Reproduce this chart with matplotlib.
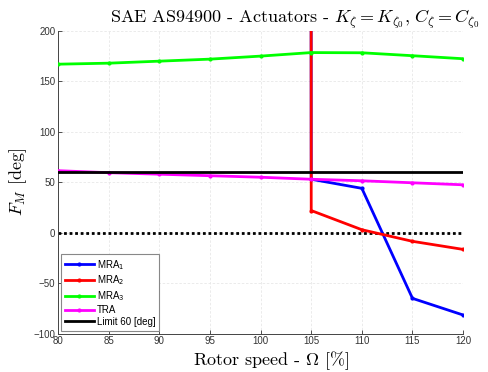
import matplotlib
matplotlib.use("Agg")
import matplotlib.pyplot as plt
from matplotlib.font_manager import FontProperties

speed = [80, 85, 90, 95, 100, 105, 110, 115, 120]
# MRA1 / MRA2 values below 105 % are far off-scale (above the plotted range)
mra1 = [95000, 97000, 99000, 100000, 100000, 53, 44, -65, -81.5]
mra2 = [95000, 97000, 99000, 100000, 100000, 22, 3, -8.5, -16.5]
mra3 = [167, 168, 170, 172, 175, 178.5, 178.3, 175.4, 172.4]
tra = [61.5, 59.5, 58, 56.5, 55, 53, 51.5, 49.5, 47.5]
limit = 60
labels = ["MRA$_1$", "MRA$_2$", "MRA$_3$", "TRA", "Limit 60 [deg]"]
xticks = [80, 85, 90, 95, 100, 105, 110, 115, 120]
yticks = [-100, -50, 0, 50, 100, 150, 200]

plt.rcParams['mathtext.fontset'] = 'cm'

fig = plt.figure(figsize=(4.88, 3.72), dpi=100)
ax = fig.add_axes([0.119, 0.103, 0.830, 0.814])

ax.plot([speed[0], speed[-1]], [0, 0], color='black', lw=2, ls=(0, (1, 1)), zorder=1)

lw = 2.0
ms = 4
ax.plot(speed, mra1, color='#0000ff', lw=lw, marker='.', ms=ms, label=labels[0], zorder=2)
ax.plot(speed, mra2, color='#ff0000', lw=lw, marker='.', ms=ms, label=labels[1], zorder=3)
ax.plot(speed, mra3, color='#00ff00', lw=lw, marker='.', ms=ms, label=labels[2], zorder=4)
ax.plot(speed, tra, color='#ff00ff', lw=lw, marker='.', ms=ms, label=labels[3], zorder=5)
ax.plot([speed[0], speed[-1]], [limit, limit], color='black', lw=lw, label=labels[4], zorder=6)

ax.set_xlim(80, 120)
ax.set_ylim(-100, 200)
ax.set_xticks(xticks)
ax.set_yticks(yticks)
tickfont = 'Liberation Sans'
for lab in ax.get_xticklabels() + ax.get_yticklabels():
    lab.set_family(tickfont)
    lab.set_fontsize(7)
ax.tick_params(direction='in', length=3, width=0.6, colors='#333333', pad=2)
ax.tick_params(axis='x', pad=2)
ax.grid(True, color='#e8e8e8', lw=0.6, ls=(0, (3, 2)))
ax.set_axisbelow(True)
for s in ['top', 'right']:
    ax.spines[s].set_visible(False)
for s in ['left', 'bottom']:
    ax.spines[s].set_color('#444444')
    ax.spines[s].set_linewidth(0.7)

ax.set_title(r"SAE AS94900 - Actuators - $K_\zeta = K_{\zeta_0},\, C_\zeta = C_{\zeta_0}$",
             family='cmr10', math_fontfamily='cm', fontsize=13.0, x=0.585, pad=5)
ax.set_xlabel(r"Rotor speed - $\Omega$ [%]", family='cmr10', math_fontfamily='cm',
              fontsize=13, labelpad=-1)
ax.xaxis.set_label_coords(0.527, -0.103, transform=ax.transAxes)
ax.xaxis.label.set_verticalalignment('baseline')
ax.set_ylabel(r"$F_M$ [deg]", family='cmr10', math_fontfamily='cm', fontsize=13, labelpad=3)

leg = ax.legend(loc='lower left', prop=FontProperties(family=tickfont, size=7, math_fontfamily='dejavusans'),
                fancybox=False, edgecolor='#888888', framealpha=1, handlelength=3.0,
                handletextpad=0.3, labelspacing=0.2, borderpad=0.4, borderaxespad=0.3)
leg.get_frame().set_linewidth(0.8)

fig.savefig("out.png", dpi=100)
